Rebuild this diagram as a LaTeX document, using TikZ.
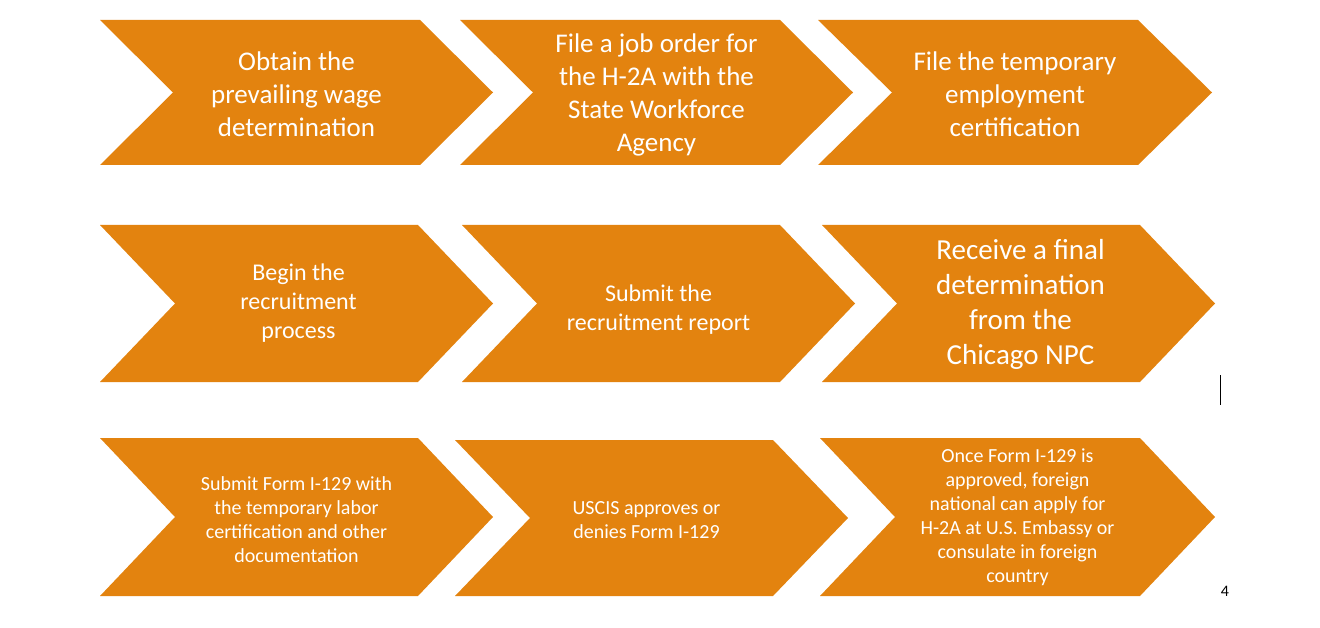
\documentclass[tikz,border=0pt]{standalone}
\usepackage{fontspec}
\setmainfont{Carlito}
\definecolor{chev}{HTML}{E3830F}
\tikzset{chevfill/.style={fill=chev,draw=none},
 lbl/.style={text=white,align=center,font=\fontsize{#1pt}{\numexpr#1*122/100\relax pt}\selectfont},
 lbl/.default=26}
\newcommand{\mychev}[6]{% name, xl, yt, yb, xbody, xtip
 \fill[chevfill] (#2,#3) -- (#5,#3) -- (#6,{(#3+#4)/2}) -- (#5,#4) -- (#2,#4) -- ({#2+#6-#5},{(#3+#4)/2}) -- cycle;
 \coordinate (#1) at ({(#2+#6)/2},{(#3+#4)/2});}
\begin{document}
\begin{tikzpicture}[x=1pt,y=-1pt]
\useasboundingbox (0,0) rectangle (1320,628);
\mychev{a1}{100}{20}{165}{420}{493}
\mychev{a2}{460}{20}{165}{780}{853}
\mychev{a3}{818}{20}{165}{1138}{1212}
\mychev{b1}{100}{225}{382}{418}{493}
\mychev{b2}{462}{225}{382}{780}{855}
\mychev{b3}{822}{225}{382}{1140}{1215}
\mychev{c1}{100}{438}{596}{418}{493}
\mychev{c2}{455}{440}{596}{773}{848}
\mychev{c3}{820}{438}{596}{1140}{1215}
\node[lbl=27] (t1) at ([yshift=-2]a1) {Obtain the\\prevailing wage\\determination};
\node[lbl=27] (t2) at ([yshift=-2]a2) {File a job order for\\the H-2A with the\\State Workforce\\Agency};
\node[lbl=27] (t3) at ([yshift=-2]a3) {File the temporary\\employment\\certification};
\node[lbl=24] (t4) at ([xshift=2]b1) {Begin the\\recruitment\\process};
\node[lbl=24] (t5) at ([yshift=-6]b2) {Submit the\\recruitment report};
\node[lbl=29] (t6) at ([xshift=2,yshift=-1]b3) {Receive a final\\determination\\from the\\Chicago NPC};
\node[lbl=20] (t7) at ([yshift=-3]c1) {Submit Form I-129 with\\the temporary labor\\certification and other\\documentation};
\node[lbl=20] (t8) at ([xshift=-5,yshift=-2]c2) {USCIS approves or\\denies Form I-129};
\node[lbl=20] (t9) at (c3) {Once Form I-129 is\\approved, foreign\\national can apply for\\H-2A at U.S. Embassy or\\consulate in foreign\\country};
\node[font=\fontsize{16pt}{18pt}\selectfont] (pg) at (1225,591) {4};
\coordinate (cu1) at (1220,375); \coordinate (cu2) at (1220,405);
\draw[line width=1pt] (cu1) -- (cu2);
\end{tikzpicture}
\end{document}
